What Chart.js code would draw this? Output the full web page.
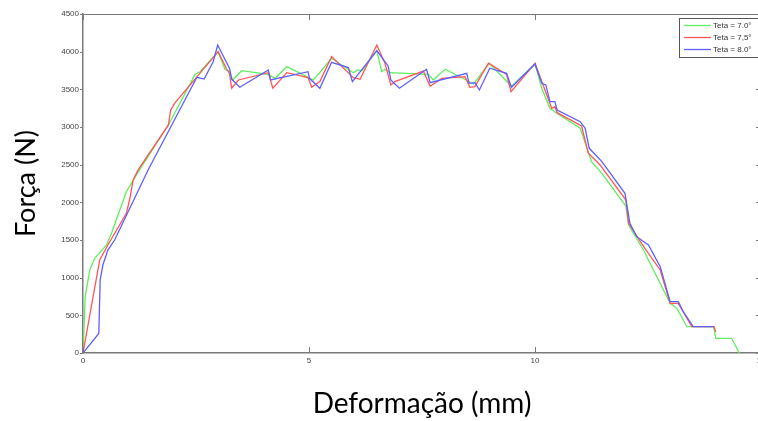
<!DOCTYPE html>
<html>
<head>
<meta charset="utf-8">
<script src="https://cdn.jsdelivr.net/npm/chart.js@4.4.1/dist/chart.umd.min.js"></script>
<style>
  html, body { margin: 0; padding: 0; background: #fff; overflow: hidden; }
  #wrap { width: 772px; height: 421px; }
</style>
</head>
<body>
<div id="wrap"><canvas id="grafico" width="772" height="421"></canvas></div>
<script>
// Força x deformação para os três ângulos
const legendas = ['Teta = 7.0°', 'Teta = 7,5°', 'Teta = 8.0°'];

const xTeta70 = [0, 0.05, 0.15, 0.26, 0.52, 0.63, 0.96, 1.07, 1.25, 1.89, 2.48, 2.59, 2.99, 3.14, 3.25, 3.31, 3.51, 4.10, 4.25, 4.51, 5.10, 5.50, 5.98, 6.07, 6.17, 6.50, 6.61, 6.68, 6.79, 7.64, 7.75, 8.01, 8.52, 8.64, 8.99, 9.48, 10.0, 10.15, 10.33, 10.48, 11.0, 11.25, 11.48, 12.01, 12.07, 12.40, 12.99, 13.14, 13.36, 13.95, 14.0, 14.35, 14.52];
const yTeta70 = [0, 748, 1102, 1257, 1434, 1589, 2141, 2253, 2430, 3027, 3699, 3734, 4000, 3766, 3734, 3624, 3747, 3699, 3646, 3801, 3624, 3912, 3721, 3757, 3747, 4013, 3734, 3766, 3721, 3699, 3624, 3766, 3611, 3571, 3846, 3540, 3837, 3514, 3248, 3182, 2983, 2540, 2385, 1951, 1699, 1367, 659, 593, 349, 349, 195, 195, 0];

const xTeta75 = [0, 0.15, 0.37, 0.55, 0.96, 1.03, 1.11, 1.22, 1.89, 1.94, 2.04, 2.99, 3.18, 3.24, 3.29, 3.44, 4.10, 4.20, 4.51, 4.98, 5.06, 5.24, 5.50, 5.98, 6.13, 6.50, 6.68, 6.81, 6.90, 7.53, 7.68, 7.94, 8.45, 8.56, 8.67, 8.97, 9.37, 9.47, 10.0, 10.07, 10.37, 10.44, 10.49, 11.03, 11.18, 11.44, 12.01, 12.07, 12.43, 12.77, 12.99, 13.17, 13.47, 13.96, 14.0];
const yTeta75 = [0, 504, 1235, 1434, 1855, 2031, 2297, 2430, 3027, 3226, 3323, 4000, 3766, 3713, 3514, 3624, 3721, 3514, 3721, 3655, 3527, 3602, 3934, 3655, 3633, 4089, 3846, 3558, 3602, 3743, 3540, 3646, 3668, 3527, 3535, 3846, 3699, 3469, 3846, 3734, 3248, 3270, 3190, 3013, 2651, 2496, 2031, 1722, 1390, 1102, 659, 659, 349, 349, 280];

const xTeta80 = [0, 0.35, 0.38, 0.44, 0.55, 0.70, 1.44, 2.52, 2.68, 2.88, 2.98, 3.24, 3.29, 3.47, 4.10, 4.15, 4.98, 5.01, 5.24, 5.50, 5.87, 5.96, 6.50, 6.75, 6.81, 7.00, 7.60, 7.68, 8.49, 8.54, 8.67, 8.77, 9.00, 9.37, 9.48, 10.0, 10.15, 10.24, 10.33, 10.44, 10.49, 11.0, 11.11, 11.2, 11.48, 11.99, 12.10, 12.25, 12.51, 12.77, 12.99, 13.17, 13.28, 13.5, 13.95];
const yTeta80 = [0, 260, 970, 1168, 1367, 1500, 2430, 3660, 3637, 3867, 4089, 3780, 3633, 3527, 3757, 3624, 3734, 3646, 3514, 3859, 3788, 3602, 4013, 3810, 3624, 3514, 3766, 3589, 3713, 3580, 3589, 3491, 3780, 3713, 3527, 3837, 3580, 3558, 3336, 3336, 3226, 3070, 2983, 2717, 2540, 2120, 1722, 1544, 1434, 1146, 681, 681, 548, 349, 349];

const xTicks = [0, 5, 10, 15];
const yTicks = [0, 500, 1000, 1500, 2000, 2500, 3000, 3500, 4000, 4500];

const cores = ['rgb(95,238,95)', 'rgb(255,85,85)', 'rgb(95,95,255)'];

function pontos(xs, ys) {
    return xs.map((x, i) => ({ x: x, y: ys[i] }));
}

const series = [pontos(xTeta70, yTeta70), pontos(xTeta75, yTeta75), pontos(xTeta80, yTeta80)];

const corEixo = '#7a7a7a';
const fonteTick = { family: 'Liberation Sans', size: 8 };

// moldura estilo matlab: caixa fechada, ticks para dentro e legenda no canto
const moldura = {
    id: 'moldura',
    afterDraw(chart) {
        const { ctx, chartArea: a, scales } = chart;
        ctx.save();
        ctx.strokeStyle = corEixo;
        ctx.lineWidth = 1;

        ctx.beginPath();
        ctx.moveTo(a.left, a.top + 0.5);
        ctx.lineTo(a.right, a.top + 0.5);
        ctx.moveTo(a.right - 0.5, a.top);
        ctx.lineTo(a.right - 0.5, a.bottom);
        ctx.stroke();

        ctx.beginPath();
        xTicks.forEach(v => {
            const px = Math.round(scales.x.getPixelForValue(v)) + 0.5;
            ctx.moveTo(px, a.bottom);
            ctx.lineTo(px, a.bottom - 6);
            ctx.moveTo(px, a.top);
            ctx.lineTo(px, a.top + 6);
        });
        yTicks.forEach(v => {
            const py = Math.round(scales.y.getPixelForValue(v)) + 0.5;
            ctx.moveTo(a.left - 3, py);
            ctx.lineTo(a.left, py);
            ctx.moveTo(a.right, py);
            ctx.lineTo(a.right - 5, py);
        });
        ctx.stroke();

        // legenda
        const lx = 679.5, ly = 18.5;
        ctx.fillStyle = '#fff';
        ctx.fillRect(lx, ly, 100, 39);
        ctx.strokeStyle = '#555';
        ctx.strokeRect(lx, ly, 100, 39);
        ctx.font = '8px "Liberation Sans"';
        ctx.textBaseline = 'middle';
        chart.data.datasets.forEach((ds, i) => {
            const yy = 25.5 + i * 12;
            ctx.strokeStyle = ds.borderColor;
            ctx.lineWidth = 1.3;
            ctx.beginPath();
            ctx.moveTo(684, yy);
            ctx.lineTo(711, yy);
            ctx.stroke();
            ctx.fillStyle = '#333';
            ctx.fillText(ds.label, 713, yy);
        });
        ctx.restore();
    }
};

new Chart(document.getElementById('grafico'), {
    type: 'line',
    data: {
        datasets: series.map((d, i) => ({
            label: legendas[i],
            data: d,
            borderColor: cores[i],
            borderWidth: 1.3,
            pointRadius: 0,
            tension: 0,
            fill: false,
            order: 3 - i
        }))
    },
    options: {
        responsive: false,
        animation: false,
        layout: { padding: { top: 14, right: 11, left: 0, bottom: 0 } },
        plugins: {
            legend: { display: false },
            tooltip: { enabled: false }
        },
        scales: {
            x: {
                type: 'linear',
                min: 0,
                max: 15,
                afterBuildTicks: s => { s.ticks = xTicks.map(v => ({ value: v })); },
                afterFit: s => { s.height = 68; },
                grid: { display: false, drawTicks: false },
                border: { display: true, color: corEixo, width: 1.5 },
                ticks: { color: '#444', font: fonteTick, padding: 3, maxRotation: 0, callback: v => String(v) },
                title: {
                    display: true,
                    text: 'Deformação (mm)',
                    color: '#000',
                    font: { family: 'Lato', size: 28 },
                    padding: { top: 0, bottom: 0 }
                }
            },
            y: {
                min: 0,
                max: 4500,
                afterBuildTicks: s => { s.ticks = yTicks.map(v => ({ value: v })); },
                afterFit: s => { s.width = 83; },
                grid: { display: false, drawTicks: false },
                border: { display: true, color: corEixo, width: 1.5 },
                ticks: { color: '#444', font: fonteTick, padding: 4, callback: v => String(v) },
                title: {
                    display: true,
                    text: 'Força (N)',
                    color: '#000',
                    font: { family: 'Lato', size: 27 },
                    padding: { top: 10, bottom: 0 }
                }
            }
        }
    },
    plugins: [moldura]
});
</script>
</body>
</html>
